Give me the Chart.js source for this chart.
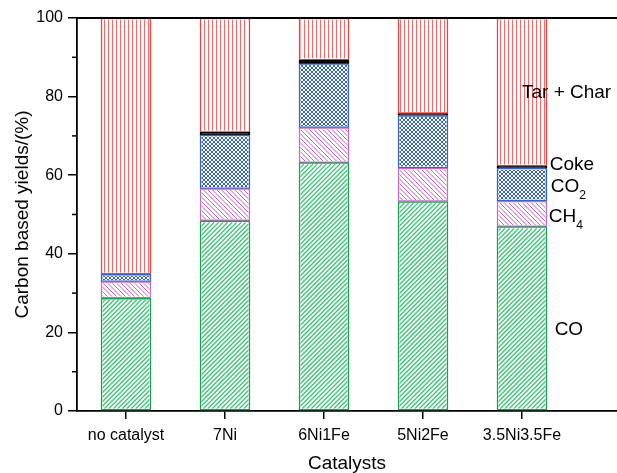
<!DOCTYPE html>
<html lang="en">
<head>
<meta charset="UTF-8">
<title>Carbon based yields</title>
<script src="https://cdn.jsdelivr.net/npm/chart.js"></script>
<style>
  html, body { margin: 0; padding: 0; background: #fff; }
  #wrap { width: 617px; height: 473px; }
</style>
</head>
<body>
<div id="wrap"><canvas id="yieldChart" width="617" height="473"></canvas></div>
<script>
// values (%)
const catalysts = ['no catalyst', '7Ni', '6Ni1Fe', '5Ni2Fe', '3.5Ni3.5Fe'];
const coYield = [28.7, 48.4, 63.2, 53.3, 46.9];
const ch4Yield = [4.2, 8.2, 8.9, 8.5, 6.5];
const co2Yield = [1.9, 13.7, 16.3, 13.4, 8.4];
const cokeYield = [0, 0.6, 0.9, 0.5, 0.5];
const tarCharYield = [65.2, 29.1, 10.7, 24.3, 37.7];
const yTicks = [0, 20, 40, 60, 80, 100];
const yMinorTicks = [10, 30, 50, 70, 90];

const family = '"Liberation Sans", Arial, sans-serif';

const series = [
    { label: 'CO', values: coYield, hatch: 'fwd', gap: 4.5, width: 1.3, color: '#3cc676', border: '#1e9e52' },
    { label: 'CH4', values: ch4Yield, hatch: 'back', gap: 4.5, width: 1, color: '#c65ec6', border: '#c070c0' },
    { label: 'CO2', values: co2Yield, hatch: 'cross', gap: 4, width: 1, color: '#3462c8', border: '#3a62c0' },
    { label: 'Coke', values: cokeYield, hatch: '', gap: 0, width: 0, color: '#000000', border: '#000000' },
    { label: 'Tar + Char', values: tarCharYield, hatch: 'vert', gap: 4, width: 1, color: '#ff6666', border: '#f04040' }
];

// text notes beside the last bar, placed in data units
const notes = [
    { text: 'Tar + Char', sub: '', x: 4.0, y: 80.9 },
    { text: 'Coke', sub: '', x: 4.28, y: 62.6 },
    { text: 'CO', sub: '2', x: 4.29, y: 57.1 },
    { text: 'CH', sub: '4', x: 4.27, y: 49.4 },
    { text: 'CO', sub: '', x: 4.33, y: 20.6 }
];

// hatch lines drawn inside each bar segment
const hatchPlugin = {
    id: 'hatch',
    afterDatasetsDraw(chart) {
        const ctx = chart.ctx;
        series.forEach(function (s, di) {
            if (!s.hatch) return;
            const gap = s.gap;
            chart.getDatasetMeta(di).data.forEach(function (bar) {
                const p = bar.getProps(['x', 'y', 'base', 'width'], true);
                const left = p.x - p.width / 2 + 1.5, right = p.x + p.width / 2 - 1.5;
                const top = Math.min(p.y, p.base) + 1.5, bottom = Math.max(p.y, p.base) - 1.5;
                if (bottom <= top) return;
                ctx.save();
                ctx.beginPath();
                ctx.rect(left, top, right - left, bottom - top);
                ctx.clip();
                ctx.strokeStyle = s.color;
                ctx.lineWidth = s.width;
                ctx.beginPath();
                if (s.hatch === 'vert') {
                    for (let xx = Math.floor(left / gap) * gap + 0.5; xx < right; xx += gap) {
                        ctx.moveTo(xx, top); ctx.lineTo(xx, bottom);
                    }
                }
                if (s.hatch === 'fwd' || s.hatch === 'cross') {
                    for (let c = Math.floor((left + top) / gap) * gap; c < right + bottom + gap; c += gap) {
                        ctx.moveTo(c - bottom, bottom); ctx.lineTo(c - top, top);
                    }
                }
                if (s.hatch === 'back' || s.hatch === 'cross') {
                    for (let c = Math.floor((left - bottom) / gap) * gap; c < right - top + gap; c += gap) {
                        ctx.moveTo(c + top, top); ctx.lineTo(c + bottom, bottom);
                    }
                }
                ctx.stroke();
                ctx.restore();
            });
        });
    }
};

const framePlugin = {
    id: 'frame',
    afterDraw(chart) {
        const ctx = chart.ctx;
        const a = chart.chartArea;
        const x = chart.scales.x, y = chart.scales.y;
        ctx.save();
        ctx.strokeStyle = '#000';
        ctx.lineWidth = 1.8;
        ctx.beginPath();
        ctx.moveTo(a.left, a.top);
        ctx.lineTo(chart.width, a.top);
        ctx.stroke();

        ctx.lineWidth = 1.5;
        yMinorTicks.forEach(function (v) {
            const py = y.getPixelForValue(v);
            ctx.beginPath();
            ctx.moveTo(a.left - 5, py);
            ctx.lineTo(a.left, py);
            ctx.stroke();
        });

        ctx.fillStyle = '#000';
        ctx.textAlign = 'left';
        ctx.textBaseline = 'middle';
        notes.forEach(function (n) {
            const px = x.getPixelForValue(n.x);
            const py = y.getPixelForValue(n.y);
            ctx.font = '19px ' + family;
            ctx.fillText(n.text, px, py);
            if (n.sub) {
                const w = ctx.measureText(n.text).width;
                ctx.font = '12px ' + family;
                ctx.fillText(n.sub, px + w, py + 9);
            }
        });
        ctx.restore();
    }
};

new Chart(document.getElementById('yieldChart'), {
    type: 'bar',
    data: {
        datasets: series.map(function (s) {
            return {
                label: s.label,
                data: s.values.map(function (v, i) { return { x: i, y: v }; }),
                backgroundColor: s.hatch ? '#ffffff' : s.color,
                borderColor: s.border,
                borderWidth: 1.5,
                borderSkipped: false,
                barThickness: 50
            };
        })
    },
    options: {
        responsive: false,
        animation: false,
        events: [],
        layout: { padding: { top: 18, right: 0, left: 0, bottom: 0 } },
        plugins: { legend: { display: false }, tooltip: { enabled: false } },
        scales: {
            x: {
                type: 'linear',
                stacked: true,
                min: -0.495,
                max: 4.96,
                offset: false,
                afterBuildTicks: function (s) { s.ticks = catalysts.map(function (_, i) { return { value: i }; }); },
                afterFit: function (s) { s.height = 62; },
                grid: { drawOnChartArea: false, offset: false, tickLength: 8, color: '#000', lineWidth: 1.5 },
                border: { color: '#000', width: 1.8 },
                ticks: {
                    callback: function (v) { return catalysts[v]; },
                    color: '#000', font: { size: 16, family: family },
                    padding: 7, maxRotation: 0, autoSkip: false
                },
                title: {
                    display: true, text: 'Catalysts', color: '#000',
                    font: { size: 19, family: family, lineHeight: 1 },
                    padding: { top: 0, bottom: 0 }
                }
            },
            y: {
                stacked: true,
                min: 0,
                max: 100,
                afterBuildTicks: function (s) { s.ticks = yTicks.map(function (v) { return { value: v }; }); },
                afterFit: function (s) { s.width = 77; },
                grid: { drawOnChartArea: false, tickLength: 9, color: '#000', lineWidth: 1.5 },
                border: { color: '#000', width: 1.8 },
                ticks: { color: '#000', font: { size: 16, family: family }, padding: 5 },
                title: {
                    display: true, text: 'Carbon based yields/(%)', color: '#000',
                    font: { size: 19, family: family, lineHeight: 1 },
                    padding: { top: 13, bottom: 0 }
                }
            }
        }
    },
    plugins: [hatchPlugin, framePlugin]
});
</script>
</body>
</html>
